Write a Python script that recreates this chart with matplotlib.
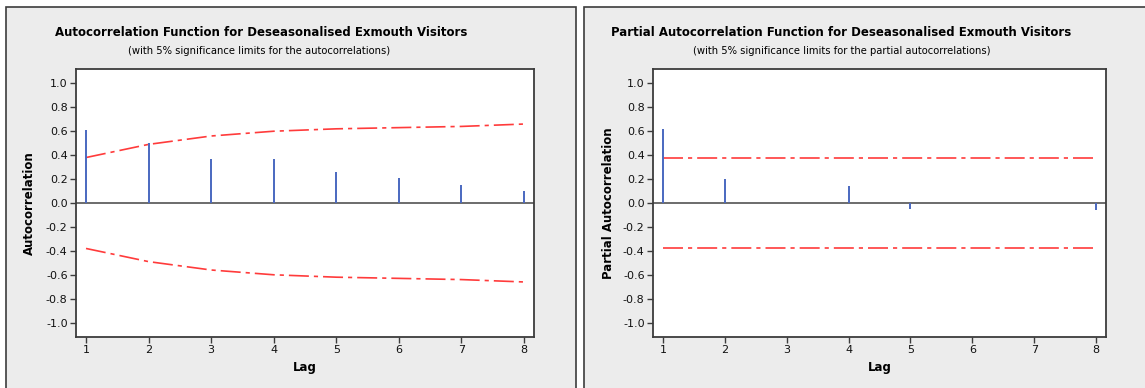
import matplotlib
matplotlib.use('Agg')
import matplotlib.pyplot as plt
from matplotlib.patches import Rectangle

# data
lags = [1, 2, 3, 4, 5, 6, 7, 8]
acf_values = [0.61, 0.50, 0.37, 0.37, 0.26, 0.21, 0.15, 0.10]
acf_limits = [0.38, 0.49, 0.56, 0.60, 0.62, 0.63, 0.64, 0.66]
pacf_values = [0.62, 0.20, 0.0, 0.14, -0.05, 0.0, 0.0, -0.06]
pacf_limit = 0.38
y_ticks = [-1.0, -0.8, -0.6, -0.4, -0.2, 0.0, 0.2, 0.4, 0.6, 0.8, 1.0]

W, H = 1145, 388
fig = plt.figure(figsize=(W / 100, H / 100), dpi=100)
fig.patch.set_facecolor('white')

panel_bg = '#ececec'
frame_col = '#3c3c3c'
stem_col = '#4a68c0'
limit_col = '#ff3b3b'


def px_rect(x0, y0, x1, y1):
    # pixel box (top-left origin) -> figure fractions
    return [x0 / W, 1 - y1 / H, (x1 - x0) / W, (y1 - y0) / H]


# the two grey panels behind each plot
for x0, x1 in [(6, 576), (584, 1160)]:
    l, b, w, h = px_rect(x0, 7, x1, 400)
    fig.patches.append(Rectangle((l, b), w, h, transform=fig.transFigure,
                                 facecolor=panel_bg, edgecolor=frame_col, lw=1.2, zorder=-10))


def style_axes(ax):
    ax.set_zorder(5)
    ax.set_facecolor('white')
    ax.set_xlim(0.84, 8.16)
    ax.set_ylim(-1.12, 1.12)
    ax.set_yticks(y_ticks)
    ax.set_yticklabels(['%.1f' % v if v >= 0 else '-%.1f' % abs(v) for v in y_ticks])
    ax.set_xticks(lags)
    ax.tick_params(direction='out', length=4, width=1, color=frame_col, labelsize=8,
                   labelcolor='#111111', pad=2)
    for s in ax.spines.values():
        s.set_color(frame_col)
        s.set_linewidth(1.3)
    ax.axhline(0, color='#444444', lw=1.1, zorder=1)
    ax.set_xlabel('Lag', fontsize=8.5, fontweight='bold', labelpad=4)


# left: ACF
ax1 = fig.add_axes(px_rect(76, 69, 534, 337))
style_axes(ax1)
ax1.vlines(lags, 0, acf_values, color=stem_col, lw=1.4, zorder=3)
neg_limits = [-v for v in acf_limits]
ax1.plot(lags, acf_limits, color=limit_col, lw=1.2, dashes=(12, 3, 2.5, 3), zorder=2)
ax1.plot(lags, neg_limits, color=limit_col, lw=1.2, dashes=(12, 3, 2.5, 3), zorder=2)
ax1.set_ylabel('Autocorrelation', fontsize=8.5, fontweight='bold', labelpad=7)

# right: PACF
ax2 = fig.add_axes(px_rect(653, 69, 1106, 337))
style_axes(ax2)
ax2.vlines(lags, 0, pacf_values, color=stem_col, lw=1.4, zorder=3)
ax2.plot([lags[0], lags[-1]], [pacf_limit, pacf_limit], color=limit_col, lw=1.2,
         dashes=(12, 3, 2.5, 3), zorder=2)
ax2.plot([lags[0], lags[-1]], [-pacf_limit, -pacf_limit], color=limit_col, lw=1.2,
         dashes=(12, 3, 2.5, 3), zorder=2)
ax2.set_ylabel('Partial Autocorrelation', fontsize=8.5, fontweight='bold', labelpad=6)

# titles
fig.text(261 / W, 1 - 33 / H, 'Autocorrelation Function for Deseasonalised Exmouth Visitors',
         ha='center', va='center', fontsize=8.5, fontweight='bold')
fig.text(259 / W, 1 - 51 / H, '(with 5% significance limits for the autocorrelations)',
         ha='center', va='center', fontsize=7.2)
fig.text(841 / W, 1 - 33 / H, 'Partial Autocorrelation Function for Deseasonalised Exmouth Visitors',
         ha='center', va='center', fontsize=8.5, fontweight='bold')
fig.text(842 / W, 1 - 51 / H, '(with 5% significance limits for the partial autocorrelations)',
         ha='center', va='center', fontsize=7.2)

fig.savefig('out.png', dpi=100)
